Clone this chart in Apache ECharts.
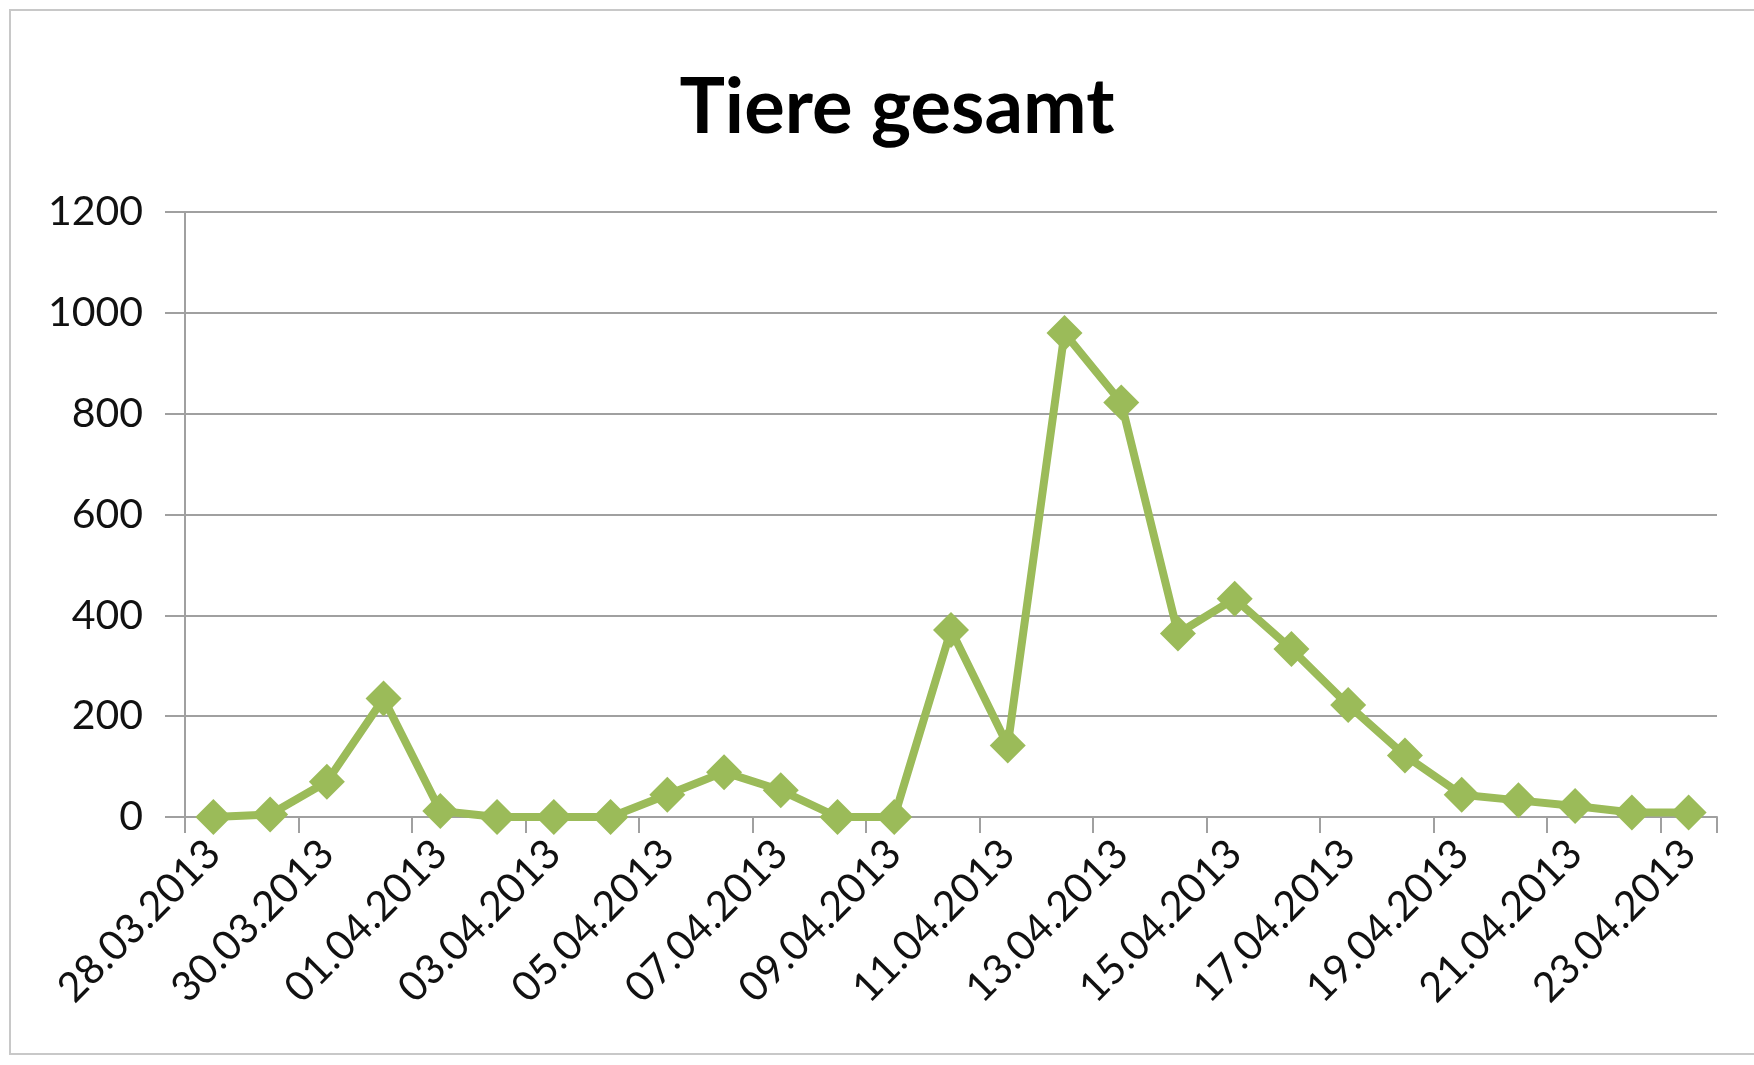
<!DOCTYPE html>
<html>
<head>
<meta charset="utf-8">
<script src="https://cdn.jsdelivr.net/npm/echarts@6/dist/echarts.min.js"></script>
<style>
  html, body { margin: 0; padding: 0; background: #fff; }
  #frame { position: absolute; left: 9px; top: 9px; width: 1760px; height: 1046px; border: 2px solid #c8c8c8; box-sizing: border-box; }
  #chart { position: absolute; left: 0; top: 0; width: 1754px; height: 1065px; }
</style>
</head>
<body>
<div id="frame"></div>
<div id="chart"></div>
<script>
// Tiere gesamt, daily counts 28.03.2013 - 23.04.2013
var dates = [
    '28.03.2013', '29.03.2013', '30.03.2013', '31.03.2013', '01.04.2013', '02.04.2013',
    '03.04.2013', '04.04.2013', '05.04.2013', '06.04.2013', '07.04.2013', '08.04.2013',
    '09.04.2013', '10.04.2013', '11.04.2013', '12.04.2013', '13.04.2013', '14.04.2013',
    '15.04.2013', '16.04.2013', '17.04.2013', '18.04.2013', '19.04.2013', '20.04.2013',
    '21.04.2013', '22.04.2013', '23.04.2013'
];
var tiere = [
    0, 5, 70, 235, 12, 0,
    0, 0, 44, 89, 53, 0,
    0, 371, 142, 960, 822, 364,
    433, 333, 222, 122, 44, 33,
    22, 9, 9
];
var yTicks = [0, 200, 400, 600, 800, 1000, 1200];

var font = 'Lato, "Open Sans", sans-serif';
var gray = '#a0a0a0';

var myChart = echarts.init(document.getElementById('chart'));

myChart.setOption({
    animation: false,
    graphic: [{
        type: 'text',
        x: 897,
        y: 108,
        style: {
            text: 'Tiere gesamt',
            font: 'bold 76px ' + font,
            fill: '#000',
            align: 'center',
            verticalAlign: 'middle'
        }
    }],
    grid: {
        left: 185,
        right: 37,
        top: 212,
        bottom: 248,
        containLabel: false
    },
    xAxis: {
        type: 'category',
        data: dates,
        boundaryGap: true,
        axisLine: { show: true, lineStyle: { color: gray, width: 2 } },
        axisTick: { show: true, interval: 1, length: 16, lineStyle: { color: gray, width: 2 } },
        axisLabel: {
            interval: 1,
            rotate: 45,
            margin: 30,
            color: '#111',
            fontFamily: font,
            fontSize: 41
        }
    },
    yAxis: {
        type: 'value',
        min: yTicks[0],
        max: yTicks[yTicks.length - 1],
        interval: 200,
        axisLine: { show: true, lineStyle: { color: gray, width: 2 } },
        axisTick: { show: true, length: 20, lineStyle: { color: gray, width: 2 } },
        axisLabel: {
            margin: 42,
            color: '#111',
            fontFamily: font,
            fontSize: 41,
            formatter: function (v) { return String(v); }
        },
        splitLine: { show: true, lineStyle: { color: gray, width: 2 } }
    },
    series: [{
        name: 'Tiere gesamt',
        type: 'line',
        data: tiere,
        symbol: 'diamond',
        symbolSize: 36,
        lineStyle: { color: '#9bbb59', width: 8 },
        itemStyle: { color: '#9bbb59' }
    }]
});
</script>
</body>
</html>
